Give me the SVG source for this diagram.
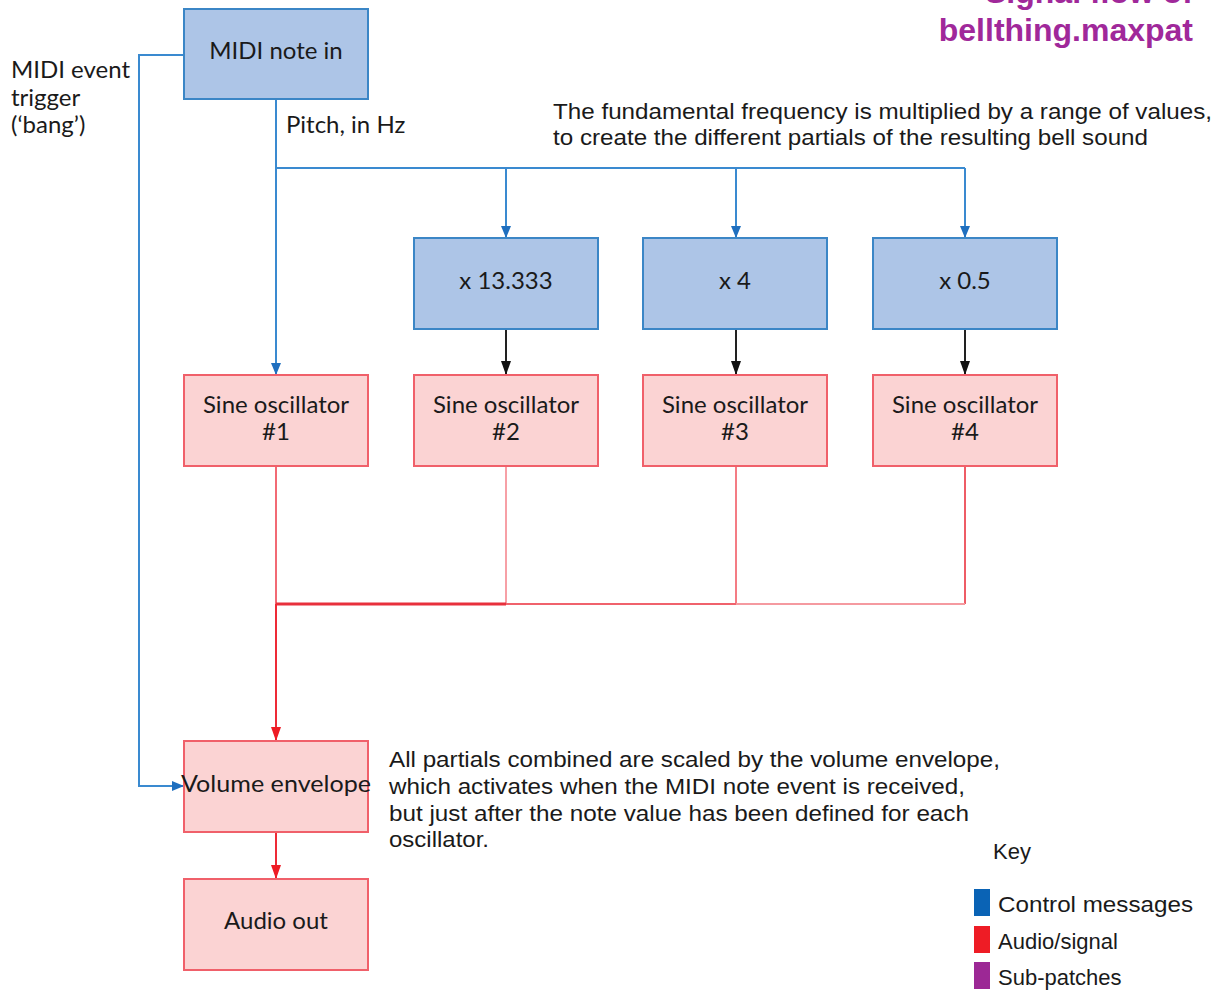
<svg xmlns="http://www.w3.org/2000/svg" width="1225" height="990" viewBox="0 0 1225 990">
  <defs>
    <style>
      .ctl { fill: #adc5e7; stroke: #3b86c6; stroke-width: 2; }
      .aud { fill: #fbd3d3; stroke: #f0606a; stroke-width: 2; }
      .lbl { font-family: Lato, "Open Sans", sans-serif; font-size: 24px; fill: #1a1a1a; text-anchor: middle; }
      .note { font-family: Lato, "Open Sans", sans-serif; font-size: 24px; fill: #1a1a1a; }
      .desc { font-family: "Liberation Sans", Arial, sans-serif; font-size: 22px; fill: #1a1a1a; }
      .title { font-family: "Liberation Sans", Arial, sans-serif; font-size: 32px; font-weight: bold; fill: #a0289a; text-anchor: end; }
      .wb { fill: none; stroke: #3a8ad0; stroke-width: 2; }
      .wk { fill: none; stroke: #222; stroke-width: 2; }
      .wr { fill: none; stroke: #ee2a36; stroke-width: 2; }
    </style>
    <!-- downward arrowheads, drawn in fixed orientation -->
    <marker id="ab" markerWidth="10" markerHeight="12" refX="5" refY="12" markerUnits="userSpaceOnUse" viewBox="0 0 10 12">
      <path d="M0,0 L10,0 L5,12 Z" fill="#1f6fbf"/>
    </marker>
    <marker id="abh" markerWidth="12" markerHeight="10" refX="12" refY="5" markerUnits="userSpaceOnUse" viewBox="0 0 12 10">
      <path d="M0,0 L12,5 L0,10 Z" fill="#1f6fbf"/>
    </marker>
    <marker id="ak" markerWidth="10" markerHeight="14" refX="5" refY="14" markerUnits="userSpaceOnUse" viewBox="0 0 10 14">
      <path d="M0,0 L10,0 L5,14 Z" fill="#111"/>
    </marker>
    <marker id="ar" markerWidth="10" markerHeight="14" refX="5" refY="14" markerUnits="userSpaceOnUse" viewBox="0 0 10 14">
      <path d="M0,0 L10,0 L5,14 Z" fill="#ee1c25"/>
    </marker>
  </defs>
  <rect width="1225" height="990" fill="#ffffff"/>

  <!-- title -->
  <text class="title" x="1193" y="3">Signal flow of</text>
  <text class="title" x="1193" y="41">bellthing.maxpat</text>

  <!-- connectors -->
  <g id="connectors">
    <!-- control bus from MIDI note in -->
    <path class="wb" d="M276,99 V168 H965"/>
    <path class="wb" d="M276,168 V375" marker-end="url(#ab)"/>
    <path class="wb" d="M506,168 V238" marker-end="url(#ab)"/>
    <path class="wb" d="M736,168 V238" marker-end="url(#ab)"/>
    <path class="wb" d="M965,168 V238" marker-end="url(#ab)"/>
    <!-- bang trigger to envelope -->
    <path class="wb" d="M184,55 H139 V786 H184" marker-end="url(#abh)"/>
    <!-- multipliers to oscillators -->
    <path class="wk" d="M506,329 V375" marker-end="url(#ak)"/>
    <path class="wk" d="M736,329 V375" marker-end="url(#ak)"/>
    <path class="wk" d="M965,329 V375" marker-end="url(#ak)"/>
    <!-- audio mix -->
    <path fill="none" stroke="#f26a74" stroke-width="2" d="M276,466 V604"/>
    <path fill="none" stroke="#f7a0a6" stroke-width="2" d="M506,466 V604"/>
    <path fill="none" stroke="#f47c84" stroke-width="2" d="M736,466 V604"/>
    <path fill="none" stroke="#ee5c66" stroke-width="2" d="M965,466 V604"/>
    <path fill="none" stroke="#f59aa0" stroke-width="2" d="M736,604 H965"/>
    <path fill="none" stroke="#f0626c" stroke-width="2" d="M506,604 H736"/>
    <path fill="none" stroke="#e8303c" stroke-width="3" d="M276,604 H506"/>
    <path class="wr" d="M276,604 V741" marker-end="url(#ar)"/>
    <path class="wr" d="M276,832 V879" marker-end="url(#ar)"/>
  </g>

  <!-- nodes -->
  <g id="midi-in">
    <rect class="ctl" x="184" y="9" width="184" height="90"/>
    <text class="lbl" x="276" y="59">MIDI note in</text>
  </g>
  <g id="mul-13333">
    <rect class="ctl" x="414" y="238" width="184" height="91"/>
    <text class="lbl" x="506" y="289">x 13.333</text>
  </g>
  <g id="mul-4">
    <rect class="ctl" x="643" y="238" width="184" height="91"/>
    <text class="lbl" x="735" y="289">x 4</text>
  </g>
  <g id="mul-05">
    <rect class="ctl" x="873" y="238" width="184" height="91"/>
    <text class="lbl" x="965" y="289">x 0.5</text>
  </g>
  <g id="osc1">
    <rect class="aud" x="184" y="375" width="184" height="91"/>
    <text class="lbl" x="276" y="413">Sine oscillator</text>
    <text class="lbl" x="276" y="440">#1</text>
  </g>
  <g id="osc2">
    <rect class="aud" x="414" y="375" width="184" height="91"/>
    <text class="lbl" x="506" y="413">Sine oscillator</text>
    <text class="lbl" x="506" y="440">#2</text>
  </g>
  <g id="osc3">
    <rect class="aud" x="643" y="375" width="184" height="91"/>
    <text class="lbl" x="735" y="413">Sine oscillator</text>
    <text class="lbl" x="735" y="440">#3</text>
  </g>
  <g id="osc4">
    <rect class="aud" x="873" y="375" width="184" height="91"/>
    <text class="lbl" x="965" y="413">Sine oscillator</text>
    <text class="lbl" x="965" y="440">#4</text>
  </g>
  <g id="envelope">
    <rect class="aud" x="184" y="741" width="184" height="91"/>
    <text class="lbl" x="276" y="792" textLength="190" lengthAdjust="spacingAndGlyphs">Volume envelope</text>
  </g>
  <g id="audio-out">
    <rect class="aud" x="184" y="879" width="184" height="91"/>
    <text class="lbl" x="276" y="929">Audio out</text>
  </g>

  <!-- annotations -->
  <g id="annotations">
    <text class="note" x="11" y="78">MIDI event</text>
    <text class="note" x="11" y="106">trigger</text>
    <text class="note" x="11" y="133">(‘bang’)</text>
    <text class="note" x="286" y="133">Pitch, in Hz</text>
    <text class="desc" x="553" y="119" textLength="659" lengthAdjust="spacingAndGlyphs">The fundamental frequency is multiplied by a range of values,</text>
    <text class="desc" x="553" y="145" textLength="595" lengthAdjust="spacingAndGlyphs">to create the different partials of the resulting bell sound</text>
    <text class="desc" x="389" y="767" textLength="611" lengthAdjust="spacingAndGlyphs">All partials combined are scaled by the volume envelope,</text>
    <text class="desc" x="389" y="794" textLength="576" lengthAdjust="spacingAndGlyphs">which activates when the MIDI note event is received,</text>
    <text class="desc" x="389" y="821" textLength="580" lengthAdjust="spacingAndGlyphs">but just after the note value has been defined for each</text>
    <text class="desc" x="389" y="847" textLength="100" lengthAdjust="spacingAndGlyphs">oscillator.</text>
  </g>

  <!-- key -->
  <g id="key">
    <text class="desc" x="993" y="859">Key</text>
    <rect x="974" y="889" width="16" height="27" fill="#0a63b5"/>
    <rect x="974" y="926" width="16" height="27" fill="#ee1c25"/>
    <rect x="974" y="962" width="16" height="27" fill="#9c2895"/>
    <text class="desc" x="998" y="912" textLength="195" lengthAdjust="spacingAndGlyphs">Control messages</text>
    <text class="desc" x="998" y="949">Audio/signal</text>
    <text class="desc" x="998" y="985">Sub-patches</text>
  </g>
</svg>
